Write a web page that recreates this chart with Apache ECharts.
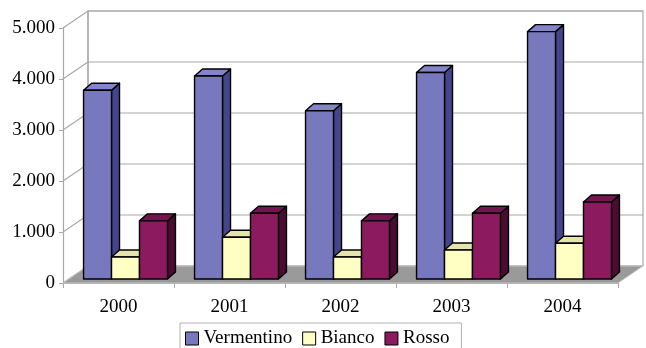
<!DOCTYPE html>
<html lang="it">
<head>
  <meta charset="UTF-8">
  <title>chart</title>
</head>
<body style="margin:0">
<div id="main" style="width: 646px;height:348px;"></div>
<script src="https://cdn.jsdelivr.net/npm/echarts@6/dist/echarts.min.js"></script>
<script>
var categories = ['2000', '2001', '2002', '2003', '2004'];
var vermentino = [3700, 3980, 3300, 4050, 4850];
var bianco = [430, 820, 430, 570, 700];
var rosso = [1140, 1290, 1140, 1290, 1510];
var yTicks = [0, 1000, 2000, 3000, 4000, 5000];

// profondita' finta 3D
var DEPTH = [25, -17];
var BAR_OFF = [7, -4];
var BAR_DEPTH = [8, -7];
var GRID_COLOR = '#a8a8a8';
var FONT = 'Liberation Serif';

function fmt(v) {
  return String(v).replace(/\B(?=(\d{3})+(?!\d))/g, '.');
}

function wallsRender(params, api) {
  var cs = params.coordSys;
  var L = cs.x, R = cs.x + cs.width, T = cs.y, B = cs.y + cs.height;
  var dx = DEPTH[0], dy = DEPTH[1];
  var line = {stroke: GRID_COLOR, lineWidth: 1.2};
  var children = [];
  children.push({type: 'polygon', shape: {points: [[L + dx, T + dy], [R + dx, T + dy], [R + dx, B + dy], [L + dx, B + dy]]},
    style: {fill: '#fff', stroke: GRID_COLOR, lineWidth: 1.2}});
  yTicks.forEach(function (v) {
    var y = api.coord([0, v])[1];
    children.push({type: 'line', shape: {x1: L + dx, y1: y + dy, x2: R + dx, y2: y + dy}, style: line});
    children.push({type: 'line', shape: {x1: L, y1: y, x2: L + dx, y2: y + dy}, style: line});
  });
  children.push({type: 'line', shape: {x1: L + dx, y1: T + dy, x2: L + dx, y2: B + dy}, style: line});
  children.push({type: 'polygon', shape: {points: [[L, B], [R, B], [R + dx, B + dy], [L + dx, B + dy]]},
    style: {fill: '#9a9a9a', stroke: '#c4c4c4', lineWidth: 1}});
  return {type: 'group', children: children};
}

function barRender(idx, col) {
  return function (params, api) {
    var i = api.value(0), v = api.value(1);
    var base = api.coord([i, 0]);
    var top = api.coord([i, v]);
    var w = api.size([1, 0])[0] * 0.252;
    var x1 = base[0] - 1.5 * w + idx * w + BAR_OFF[0];
    var x2 = x1 + w;
    var yb = base[1] + BAR_OFF[1];
    var yt = top[1] + BAR_OFF[1];
    var dx = BAR_DEPTH[0], dy = BAR_DEPTH[1];
    var st = {stroke: '#000', lineWidth: 1.4, lineJoin: 'round'};
    return {type: 'group', children: [
      {type: 'polygon', shape: {points: [[x2, yt], [x2 + dx, yt + dy], [x2 + dx, yb + dy], [x2, yb]]},
        style: Object.assign({fill: col[1]}, st)},
      {type: 'polygon', shape: {points: [[x1, yt], [x1 + dx, yt + dy], [x2 + dx, yt + dy], [x2, yt]]},
        style: Object.assign({fill: col[2]}, st)},
      {type: 'rect', shape: {x: x1, y: yt, width: w, height: yb - yt},
        style: Object.assign({fill: col[0]}, st)}
    ]};
  };
}

function toData(arr) {
  return arr.map(function (v, i) { return [i, v]; });
}

var colV = ['#7878bf', '#45458c', '#8484ca'];
var colB = ['#ffffc4', '#c8c890', '#e4e4ac'];
var colR = ['#8c1a5e', '#4a0c30', '#741550'];

var myChart = echarts.init(document.getElementById('main'));
myChart.setOption({
  animation: false,
  backgroundColor: '#fff',
  grid: {left: 63, right: 28, top: 28, bottom: 65, containLabel: false, outerBoundsMode: 'none'},
  legend: {
    data: ['Vermentino', 'Bianco', 'Rosso'],
    left: 180, top: 323,
    icon: 'rect', itemWidth: 13, itemHeight: 13, itemGap: 10,
    padding: [6, 12, 8, 5],
    borderColor: '#b0b0b0', borderWidth: 1,
    itemStyle: {borderColor: '#000', borderWidth: 1},
    textStyle: {fontFamily: FONT, fontSize: 19, color: '#000'}
  },
  xAxis: {
    type: 'category',
    data: categories,
    axisLine: {lineStyle: {color: GRID_COLOR, width: 1.2}},
    axisTick: {show: true, length: 5, lineStyle: {color: GRID_COLOR}},
    axisLabel: {fontFamily: FONT, fontSize: 19, color: '#000', margin: 15},
    splitLine: {show: false}
  },
  yAxis: {
    type: 'value',
    min: 0, max: 5000, interval: 1000,
    axisLine: {show: true, lineStyle: {color: GRID_COLOR, width: 1.2}},
    axisTick: {show: true, length: 4, lineStyle: {color: GRID_COLOR}},
    axisLabel: {fontFamily: FONT, fontSize: 19, color: '#000', margin: 8, formatter: fmt},
    splitLine: {show: false}
  },
  series: [
    {name: 'walls', type: 'custom', z: 1, silent: true, renderItem: wallsRender, data: [[0, 0]], encode: {x: 0, y: 1}},
    {name: 'Vermentino', type: 'custom', z: 2, itemStyle: {color: colV[0]}, renderItem: barRender(0, colV), data: toData(vermentino), encode: {x: 0, y: 1}},
    {name: 'Bianco', type: 'custom', z: 2, itemStyle: {color: colB[0]}, renderItem: barRender(1, colB), data: toData(bianco), encode: {x: 0, y: 1}},
    {name: 'Rosso', type: 'custom', z: 2, itemStyle: {color: colR[0]}, renderItem: barRender(2, colR), data: toData(rosso), encode: {x: 0, y: 1}}
  ]
});
</script>
</body>
</html>
